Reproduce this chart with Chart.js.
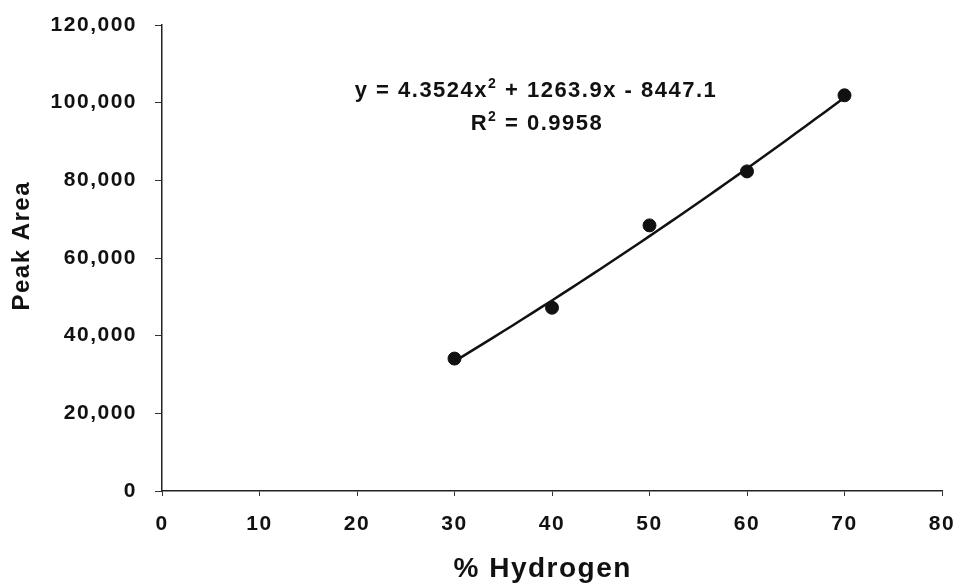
<!DOCTYPE html>
<html>
<head>
<meta charset="utf-8">
<script src="https://cdn.jsdelivr.net/npm/chart.js@4.4.1/dist/chart.umd.min.js"></script>
<style>
  html, body { margin: 0; padding: 0; background: #fff; }
  #wrap { width: 954px; height: 587px; }
</style>
</head>
<body>
<div id="wrap"><canvas id="hydrogenChart"></canvas></div>
<script>
const hydrogen = [30, 40, 50, 60, 70];
const peakArea = [34100, 47200, 68400, 82300, 101900];

// polynomial trendline: a*x^2 + b*x + c
const fitCoeffs = [4.3524, 1263.9, -8447.1];
const fitRange = [30, 70];

const xTicks = [0, 10, 20, 30, 40, 50, 60, 70, 80];
const yTicks = [0, 20000, 40000, 60000, 80000, 100000, 120000];

const equationParts = ['y = 4.3524x', '2', ' + 1263.9x - 8447.1'];
const rSquaredParts = ['R', '2', ' = 0.9958'];

const FONT = '"Liberation Sans", Arial, Helvetica, sans-serif';
const INK = '#111';

const fitPoints = [];
for (let x = fitRange[0]; x <= fitRange[1]; x += 1) {
  fitPoints.push({ x: x, y: fitCoeffs[0] * x * x + fitCoeffs[1] * x + fitCoeffs[2] });
}

// text in the original looks slightly spaced out
const spacing = {
  id: 'spacing',
  beforeUpdate(chart) { chart.ctx.letterSpacing = '1.5px'; },
  beforeDraw(chart) { chart.ctx.letterSpacing = '1.5px'; }
};

function drawSupLine(ctx, parts, cx, baseline) {
  const big = 'bold 22px ' + FONT;
  const small = 'bold 14px ' + FONT;
  ctx.font = big; const w0 = ctx.measureText(parts[0]).width;
  ctx.font = small; const w1 = ctx.measureText(parts[1]).width;
  ctx.font = big; const w2 = ctx.measureText(parts[2]).width;
  let x = cx - (w0 + w1 + w2) / 2;
  ctx.textAlign = 'left';
  ctx.textBaseline = 'alphabetic';
  ctx.fillStyle = INK;
  ctx.font = big; ctx.fillText(parts[0], x, baseline); x += w0;
  ctx.font = small; ctx.fillText(parts[1], x, baseline - 9); x += w1;
  ctx.font = big; ctx.fillText(parts[2], x, baseline);
}

const equationLabel = {
  id: 'equationLabel',
  afterDraw(chart) {
    const ctx = chart.ctx;
    ctx.save();
    ctx.letterSpacing = '1.5px';
    drawSupLine(ctx, equationParts, 536, 97);
    drawSupLine(ctx, rSquaredParts, 537, 130);
    ctx.restore();
  }
};

new Chart(document.getElementById('hydrogenChart'), {
  type: 'scatter',
  data: {
    datasets: [
      {
        label: 'Trendline',
        data: fitPoints,
        showLine: true,
        borderColor: INK,
        borderWidth: 2.5,
        pointRadius: 0,
        tension: 0
      },
      {
        label: 'Peak Area',
        data: hydrogen.map((h, i) => ({ x: h, y: peakArea[i] })),
        backgroundColor: INK,
        borderColor: INK,
        pointRadius: 6.5,
        pointHoverRadius: 6.5
      }
    ]
  },
  options: {
    responsive: true,
    maintainAspectRatio: false,
    animation: false,
    events: [],
    layout: { padding: { top: 25, right: 0, bottom: 0, left: 0 } },
    plugins: {
      legend: { display: false },
      tooltip: { enabled: false }
    },
    scales: {
      x: {
        type: 'linear',
        min: 0,
        max: 80,
        afterBuildTicks: s => { s.ticks = xTicks.map(v => ({ value: v })); },
        afterFit: s => { s.height = 96; s.paddingLeft = 0; s.paddingRight = 12; },
        grid: { drawOnChartArea: false, drawTicks: true, tickLength: 5, tickColor: '#333', tickWidth: 1 },
        border: { display: true, color: '#222', width: 1.5 },
        ticks: {
          color: INK,
          padding: 16,
          maxRotation: 0,
          font: { family: FONT, size: 21, weight: 'bold' }
        },
        title: {
          display: true,
          text: '% Hydrogen  ',
          color: INK,
          padding: { top: 0, bottom: 1 },
          font: { family: FONT, size: 28, weight: 'bold' }
        }
      },
      y: {
        type: 'linear',
        min: 0,
        max: 120000,
        afterBuildTicks: s => { s.ticks = yTicks.map(v => ({ value: v })); },
        afterFit: s => { s.width = 162; s.paddingTop = 0; s.paddingBottom = 0; },
        grid: { drawOnChartArea: false, drawTicks: true, tickLength: 7, tickColor: '#333', tickWidth: 1 },
        border: { display: true, color: '#222', width: 1.5 },
        ticks: {
          color: INK,
          padding: 18,
          font: { family: FONT, size: 21, weight: 'bold' },
          callback: v => v.toLocaleString('en-US')
        },
        title: {
          display: true,
          text: '   Peak Area',
          color: INK,
          padding: { top: 8, bottom: 0 },
          font: { family: FONT, size: 24, weight: 'bold' }
        }
      }
    }
  },
  plugins: [spacing, equationLabel]
});
</script>
</body>
</html>
